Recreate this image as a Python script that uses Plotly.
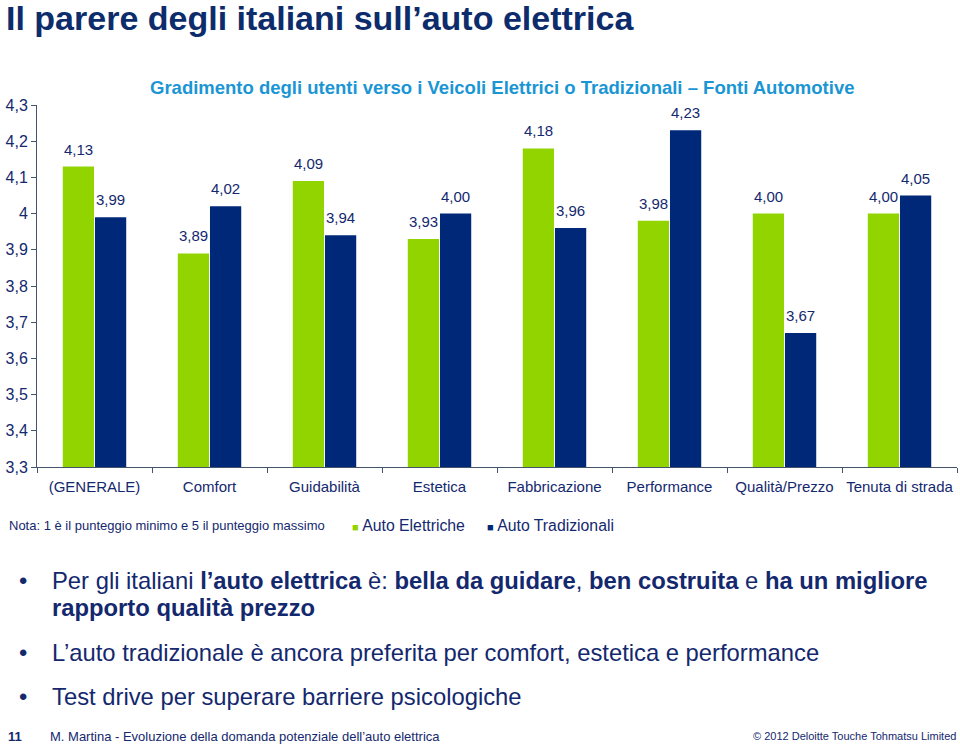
import plotly.graph_objects as go

categories = ["(GENERALE)", "Comfort", "Guidabilità", "Estetica", "Fabbricazione",
              "Performance", "Qualità/Prezzo", "Tenuta di strada"]
elettriche = [4.13, 3.89, 4.09, 3.93, 4.18, 3.98, 4.00, 4.00]
tradizionali = [3.99, 4.02, 3.94, 4.00, 3.96, 4.23, 3.67, 4.05]
y_ticks = [3.3, 3.4, 3.5, 3.6, 3.7, 3.8, 3.9, 4.0, 4.1, 4.2, 4.3]
y_tick_labels = ["3,3", "3,4", "3,5", "3,6", "3,7", "3,8", "3,9", "4", "4,1", "4,2", "4,3"]

GREEN = "#92d400"
NAVY = "#002878"
TXT = "#14286e"
FONT = "Liberation Sans, Arial, sans-serif"

def fmt(v):
    return f"{v:.2f}".replace(".", ",")

fig = go.Figure()
fig.add_trace(go.Bar(x=categories, y=elettriche, name="Auto Elettriche",
                     marker=dict(color=GREEN, line=dict(width=0))))
fig.add_trace(go.Bar(x=categories, y=tradizionali, name="Auto Tradizionali",
                     marker=dict(color=NAVY, line=dict(width=0))))

fig.update_layout(
    width=960, height=747,
    margin=dict(l=37, r=3, t=105, b=280, pad=0, autoexpand=False),
    paper_bgcolor="white", plot_bgcolor="white",
    barmode="group", bargap=0.44, bargroupgap=0.03,
    showlegend=False,
    font=dict(family=FONT, color=TXT),
    xaxis=dict(showgrid=False, showline=True, linecolor="#44546a", linewidth=1,
               ticks="outside", tickson="boundaries", ticklen=5, tickcolor="#44546a",
               tickangle=0, automargin=False, ticklabelstandoff=6,
               tickfont=dict(size=15, color=TXT, family=FONT)),
    yaxis=dict(range=[3.3, 4.3], showgrid=False, showline=True, linecolor="#44546a",
               linewidth=1, ticks="outside", ticklen=5, tickcolor="#44546a",
               tickvals=y_ticks, ticktext=y_tick_labels, zeroline=False, automargin=False,
               tickfont=dict(size=16, color=TXT, family=FONT)),
)

ann = []
# value labels above the bars (placed through the data axes)
for vals, shift in [(elettriche, -16), (tradizionali, 16)]:
    for c, v in zip(categories, vals):
        ann.append(dict(text=fmt(v), x=c, y=v, xref="x", yref="y", xshift=shift, yshift=7,
                        xanchor="center", yanchor="bottom", showarrow=False,
                        font=dict(size=15, color=TXT, family=FONT)))

other = []
# Slide title
other.append(dict(text="<b>Il parere degli italiani sull’auto elettrica</b>", x=4, y=747 - 18,
                  xanchor="left", yanchor="middle", font=dict(size=34, color="#0d2c6c", family=FONT)))
# Chart title
other.append(dict(text="<b>Gradimento degli utenti verso i Veicoli Elettrici o Tradizionali – Fonti Automotive</b>",
                  x=502, y=747 - 88, xanchor="center", yanchor="middle",
                  font=dict(size=18.5, color="#1a96d4", family=FONT)))
# Note and legend
other.append(dict(text="Nota: 1 è il punteggio minimo e 5 il punteggio massimo", x=7, y=747 - 525,
                  xanchor="left", yanchor="middle", font=dict(size=13, color=TXT, family=FONT)))
other.append(dict(text=f"<span style='color:{GREEN};font-size:11px'>■</span> Auto Elettriche", x=350, y=747 - 525,
                  xanchor="left", yanchor="middle", font=dict(size=15.8, color=TXT, family=FONT)))
other.append(dict(text=f"<span style='color:{NAVY};font-size:11px'>■</span> Auto Tradizionali", x=485, y=747 - 525,
                  xanchor="left", yanchor="middle", font=dict(size=15.8, color=TXT, family=FONT)))
# Bullets
bullet_font = dict(size=23.8, color=TXT, family=FONT)
for yy in [580, 652, 696]:
    other.append(dict(text="•", x=17, y=747 - yy, xanchor="left", yanchor="middle", font=bullet_font))
other.append(dict(text="Per gli italiani <b>l’auto elettrica</b> è: <b>bella da guidare</b>, <b>ben costruita</b> e <b>ha un migliore</b>",
                  x=50, y=747 - 580, xanchor="left", yanchor="middle", font=bullet_font))
other.append(dict(text="<b>rapporto qualità prezzo</b>", x=50, y=747 - 607, xanchor="left", yanchor="middle", font=bullet_font))
other.append(dict(text="L’auto tradizionale è ancora preferita per comfort, estetica e performance",
                  x=50, y=747 - 652, xanchor="left", yanchor="middle", font=bullet_font))
other.append(dict(text="Test drive per superare barriere psicologiche",
                  x=50, y=747 - 696, xanchor="left", yanchor="middle", font=bullet_font))
# Footer
other.append(dict(text="<b>11</b>", x=6, y=747 - 736, xanchor="left", yanchor="middle",
                  font=dict(size=13, color=TXT, family=FONT)))
other.append(dict(text="M. Martina - Evoluzione della domanda potenziale dell’auto elettrica", x=48, y=747 - 736,
                  xanchor="left", yanchor="middle", font=dict(size=13, color=TXT, family=FONT)))
other.append(dict(text="© 2012 Deloitte Touche Tohmatsu Limited", x=958, y=747 - 736,
                  xanchor="right", yanchor="middle", font=dict(size=11, color=TXT, family=FONT)))

for a in other:
    a.update(xref="paper", yref="paper", showarrow=False)
    # convert pixel coordinates to paper coordinates
    a["x"] = (a["x"] - 37) / 920
    a["y"] = (a["y"] - 280) / 362
fig.update_layout(annotations=ann + other)

fig.write_html("out.html", config={"displayModeBar": False},
               post_script="document.body.style.margin='0px';document.body.style.overflow='hidden';")
